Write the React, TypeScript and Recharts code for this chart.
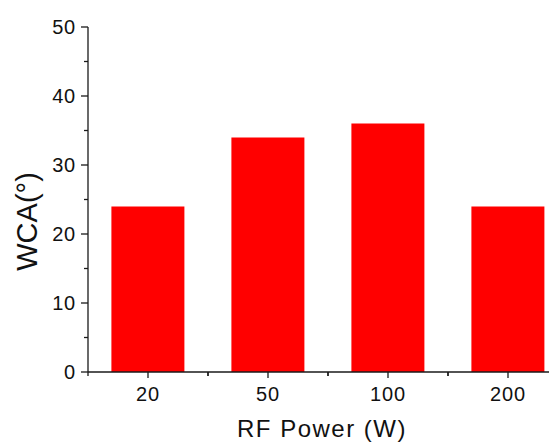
import React from "react";
import { BarChart, Bar, XAxis, YAxis } from "recharts";

const powers = ["20", "50", "100", "200"];
const wca = [24, 34, 36, 24];
const yTicks = [0, 5, 10, 15, 20, 25, 30, 35, 40, 45, 50];
const xTitle = "RF Power (W)";
const yTitle = "WCA(°)";

const data = powers.map((p, i) => ({ power: p, wca: wca[i] }));

const AXIS = "#1a1a1a";
const FONT = "Arial, 'Liberation Sans', sans-serif";

const YTick = (props: any) => {
  const { x, y, payload } = props;
  const v = payload.value as number;
  const major = v % 10 === 0;
  return (
    <g>
      <line x1={x} x2={x - (major ? 7 : 4)} y1={y} y2={y} stroke={AXIS} strokeWidth={1.3} />
      {major && (
        <text x={x - 12} y={y} dy="0.36em" textAnchor="end" fontSize={20} letterSpacing={0.8} fill="#111" fontFamily={FONT}>
          {v}
        </text>
      )}
    </g>
  );
};

const XTick = (props: any) => {
  const { x, y, payload } = props;
  const half = payload && typeof payload.offset === "number" ? payload.offset : 0;
  return (
    <g>
      <line x1={x} x2={x} y1={y} y2={y + 6} stroke={AXIS} strokeWidth={1.3} />
      {half > 0 && (
        <>
          <line x1={x - half} x2={x - half} y1={y} y2={y + 4} stroke={AXIS} strokeWidth={1.3} />
          <line x1={x + half} x2={x + half} y1={y} y2={y + 4} stroke={AXIS} strokeWidth={1.3} />
        </>
      )}
      <text x={x} y={y + 29} textAnchor="middle" fontSize={20} letterSpacing={0.8} fill="#111" fontFamily={FONT}>
        {payload.value}
      </text>
    </g>
  );
};

const XLabel = (props: any) => {
  const vb = props.viewBox || {};
  const cx = vb.x + vb.width / 2 - 6;
  return (
    <text x={cx} y={429} textAnchor="middle" fontSize={24} letterSpacing={1.5} fill="#111" fontFamily={FONT}>
      {xTitle}
    </text>
  );
};

const YLabel = (props: any) => {
  const vb = props.viewBox || {};
  const cy = vb.y + vb.height / 2 + 22;
  const cx = 29;
  return (
    <text x={cx} y={cy} transform={`rotate(-90, ${cx}, ${cy})`} textAnchor="middle" fontSize={29} fill="#111" fontFamily={FONT}>
      {yTitle}
    </text>
  );
};

export default function App() {
  return (
    <>
      <style>{`html,body{margin:0;padding:0;overflow:hidden;background:#fff}`}</style>
      <div
        style={{
          width: 549,
          height: 445,
          overflow: "hidden",
          paddingLeft: 8,
          paddingTop: 8,
          boxSizing: "border-box",
          background: "#fff",
        }}
      >
        <BarChart
          width={580}
          height={437}
          data={data}
          margin={{ top: 19, right: 20, left: 0, bottom: 0 }}
          barCategoryGap="19.5%"
          style={{ overflow: "visible" }}
        >
          <XAxis
            dataKey="power"
            height={73}
            tickLine={false}
            tickSize={0}
            tickMargin={0}
            axisLine={{ stroke: AXIS, strokeWidth: 1.3 }}
            tick={<XTick />}
            interval={0}
            label={<XLabel />}
          />
          <YAxis
            width={80}
            domain={[0, 50]}
            ticks={yTicks}
            interval={0}
            tickLine={false}
            tickSize={0}
            tickMargin={0}
            axisLine={{ stroke: AXIS, strokeWidth: 1.3 }}
            tick={<YTick />}
            label={<YLabel />}
          />
          <Bar dataKey="wca" fill="#ff0000" isAnimationActive={false} />
        </BarChart>
      </div>
    </>
  );
}
